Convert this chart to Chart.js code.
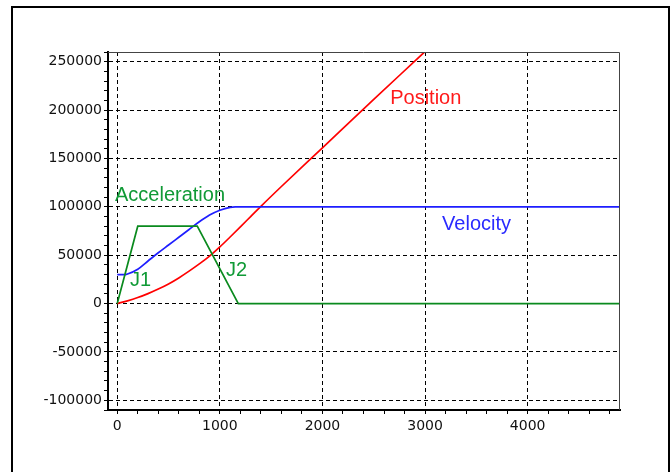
<!DOCTYPE html>
<html>
<head>
<meta charset="utf-8">
<script src="https://cdn.jsdelivr.net/npm/chart.js"></script>
<style>
  html, body { margin: 0; padding: 0; background: #fff; }
  #wrap { position: relative; width: 672px; height: 472px; }
</style>
</head>
<body>
<div id="wrap"><canvas id="motionChart" width="672" height="472"></canvas></div>
<script>
// Motion profile chart - position / velocity / acceleration vs time

// data
const posTime   = [0, 100, 200, 300, 400, 500, 600, 700, 800, 900, 1000, 1100, 1200, 1300, 1400, 1600, 2000, 2500, 3000, 4900];
const posValues = [0, 2800, 6200, 10300, 15000, 20300, 26500, 33500, 41000, 49000, 58500, 68800, 79300, 89900, 100500, 121000, 161000, 211000, 260500, 450000];

const velTime   = [0, 80, 100, 200, 300, 400, 500, 600, 700, 800, 900, 1000, 1100, 1150, 4900];
const velValues = [30000, 30000, 30500, 35500, 44000, 52500, 60500, 68500, 76500, 84500, 91500, 96500, 99500, 100000, 100000];

const accTime   = [0, 200, 780, 1180, 4900];
const accValues = [0, 80000, 80000, 0, 0];

// axis ranges / tick steps
const xRange = [-90, 4900];
const yRange = [-110000, 260000];
const xSteps = [1000, 200];     // major, minor
const ySteps = [50000, 10000];

// curve labels: [text, x, y (baseline), colour]
const curveLabels = [
    ['Position',     2660, 206400, '#ff1a1a'],
    ['Acceleration',  -22, 106500, '#109a36'],
    ['Velocity',     3166,  75600, '#2a2aff'],
    ['J1',            124,  17900, '#109a36'],
    ['J2',           1060,  28200, '#109a36']
];

function toPoints(xs, ys) {
    return xs.map((x, i) => ({ x: x, y: ys[i] }));
}

function stepTicks(min, max, step) {
    const out = [];
    for (let v = Math.ceil(min / step) * step; v <= max; v += step) out.push({ value: v });
    return out;
}

const tickFont = { family: 'DejaVu Sans', size: 14 };

const framePlugin = {
    id: 'frame',
    beforeDraw(chart) {
        const ctx = chart.ctx;
        ctx.save();
        ctx.strokeStyle = '#000';
        ctx.lineWidth = 2;
        ctx.strokeRect(12, 7, 657, 500);
        ctx.restore();
    },
    afterDraw(chart) {
        const { ctx, chartArea: a, scales } = chart;
        ctx.save();
        // thin top / right border of the plot
        ctx.strokeStyle = '#444';
        ctx.lineWidth = 1;
        ctx.beginPath();
        ctx.moveTo(a.left, a.top + 0.5);
        ctx.lineTo(a.right - 0.5, a.top + 0.5);
        ctx.lineTo(a.right - 0.5, a.bottom);
        ctx.stroke();
        // curve names
        ctx.font = '20px "Liberation Sans", Arial, sans-serif';
        ctx.textBaseline = 'alphabetic';
        ctx.textAlign = 'left';
        curveLabels.forEach(([txt, x, y, col]) => {
            ctx.fillStyle = col;
            ctx.fillText(txt, scales.x.getPixelForValue(x), scales.y.getPixelForValue(y));
        });
        ctx.restore();
    }
};

const lineStyle = { pointRadius: 0, borderWidth: 1.7, fill: false, showLine: true };

new Chart(document.getElementById('motionChart').getContext('2d'), {
    type: 'scatter',
    data: {
        datasets: [
            Object.assign({ label: 'Acceleration', data: toPoints(accTime, accValues),
                borderColor: '#0a8a1e', tension: 0 }, lineStyle),
            Object.assign({ label: 'Velocity', data: toPoints(velTime, velValues),
                borderColor: '#1e1eff', cubicInterpolationMode: 'monotone' }, lineStyle),
            Object.assign({ label: 'Position', data: toPoints(posTime, posValues),
                borderColor: '#ff0000', cubicInterpolationMode: 'monotone' }, lineStyle)
        ]
    },
    options: {
        responsive: false,
        animation: false,
        layout: { padding: { left: 0, top: 52, right: 52, bottom: 0 } },
        plugins: { legend: { display: false }, tooltip: { enabled: false } },
        scales: {
            x: {
                type: 'linear',
                min: xRange[0],
                max: xRange[1],
                afterBuildTicks: s => { s.ticks = stepTicks(0, xRange[1], xSteps[1]); },
                afterFit: s => { s.height = 62; },
                ticks: {
                    autoSkip: false,
                    maxRotation: 0,
                    padding: 4,
                    color: '#111',
                    font: tickFont,
                    callback: v => (v % xSteps[0] === 0 ? String(v) : '')
                },
                grid: {
                    color: c => (c.tick && c.tick.value % xSteps[0] === 0 ? '#000' : 'rgba(0,0,0,0)'),
                    lineWidth: 1,
                    tickColor: '#000',
                    tickLength: 4,
                    tickWidth: 1,
                    tickBorderDash: []
                },
                border: { display: true, color: '#000', width: 2, dash: [4, 3] }
            },
            y: {
                type: 'linear',
                min: yRange[0],
                max: yRange[1],
                afterBuildTicks: s => { s.ticks = stepTicks(yRange[0], yRange[1], ySteps[1]); },
                afterFit: s => { s.width = 108; },
                ticks: {
                    autoSkip: false,
                    padding: 2,
                    color: '#111',
                    font: tickFont,
                    callback: v => (v % ySteps[0] === 0 ? String(v) : '')
                },
                grid: {
                    color: c => (c.tick && c.tick.value % ySteps[0] === 0 ? '#000' : 'rgba(0,0,0,0)'),
                    lineWidth: 1,
                    tickColor: '#000',
                    tickLength: 4,
                    tickWidth: 1,
                    tickBorderDash: []
                },
                border: { display: true, color: '#000', width: 2, dash: [4, 3] }
            }
        }
    },
    plugins: [framePlugin]
});
</script>
</body>
</html>
